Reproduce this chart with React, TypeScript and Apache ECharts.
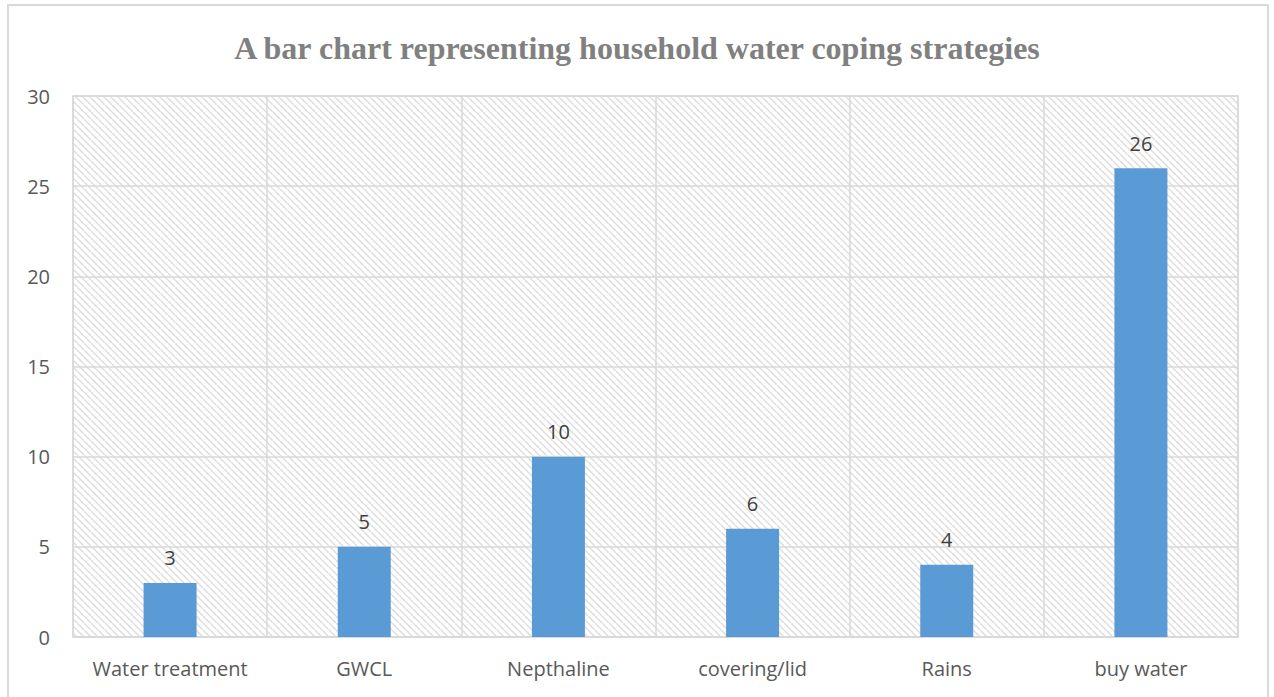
import React, { useEffect, useRef } from "react";
import * as echarts from "echarts";

const titleText = "A bar chart representing household water coping strategies";
const categories = ["Water treatment", "GWCL", "Nepthaline", "covering/lid", "Rains", "buy water"];
const values = [3, 5, 10, 6, 4, 26];
const yMin = 0;
const yMax = 30;
const yInterval = 5;

function makeHatch(): string {
  const size = 7;
  const c = document.createElement("canvas");
  c.width = size;
  c.height = size;
  const ctx = c.getContext("2d")!;
  ctx.fillStyle = "#ffffff";
  ctx.fillRect(0, 0, size, size);
  ctx.strokeStyle = "#dedede";
  ctx.lineWidth = 1.5;
  ctx.beginPath();
  for (let k = -1; k <= 1; k++) {
    ctx.moveTo(k * size, 0);
    ctx.lineTo(k * size + size, size);
  }
  ctx.stroke();
  return c.toDataURL();
}

export default function App() {
  const ref = useRef<HTMLDivElement>(null);
  useEffect(() => {
    if (!ref.current) return;
    const chart = echarts.init(ref.current, undefined, { renderer: "svg" });
    const hatch = makeHatch();
    const font = "'Open Sans', 'Noto Sans', sans-serif";
    chart.setOption({
      animation: false,
      backgroundColor: "#ffffff",
      title: {
        text: titleText,
        left: "center",
        top: 27,
        textStyle: {
          fontFamily: "'Liberation Serif', 'DejaVu Serif', serif",
          fontWeight: "bold",
          fontSize: 32,
          color: "#808080",
        },
      },
      graphic: [
        {
          type: "rect",
          shape: { x: 8, y: 5, width: 1260, height: 720 },
          style: { fill: "none", stroke: "#d9d9d9", lineWidth: 2 },
          silent: true,
        },
      ],
      grid: {
        left: 73,
        top: 96,
        right: 36,
        bottom: 60,
        show: true,
        borderColor: "#d9d9d9",
        borderWidth: 1.5,
        backgroundColor: { image: hatch, repeat: "repeat", imageWidth: 7, imageHeight: 7 } as any,
      },
      xAxis: {
        type: "category",
        data: categories,
        axisTick: { show: false, interval: 0 },
        axisLine: { show: true, lineStyle: { color: "#d9d9d9", width: 1.5 } },
        splitLine: { show: true, interval: 0, lineStyle: { color: "#d9d9d9", width: 1.5 } },
        axisLabel: { interval: 0, color: "#595959", fontSize: 20, fontFamily: font, margin: 21 },
      },
      yAxis: {
        type: "value",
        min: yMin,
        max: yMax,
        interval: yInterval,
        axisLine: { show: false },
        axisTick: { show: false },
        splitLine: { show: true, lineStyle: { color: "#d9d9d9", width: 1.5 } },
        axisLabel: { color: "#595959", fontSize: 20, fontFamily: font, margin: 23 },
      },
      series: [
        {
          type: "bar",
          data: values,
          barWidth: 53,
          itemStyle: { color: "#5b9bd5" },
          label: {
            show: true,
            position: "top",
            distance: 15,
            color: "#404040",
            fontSize: 20,
            fontFamily: font,
          },
        },
      ],
    });
    return () => chart.dispose();
  }, []);
  return (
    <div
      ref={ref}
      style={{ position: "absolute", left: 0, top: 0, width: 1274, height: 697 }}
    />
  );
}
